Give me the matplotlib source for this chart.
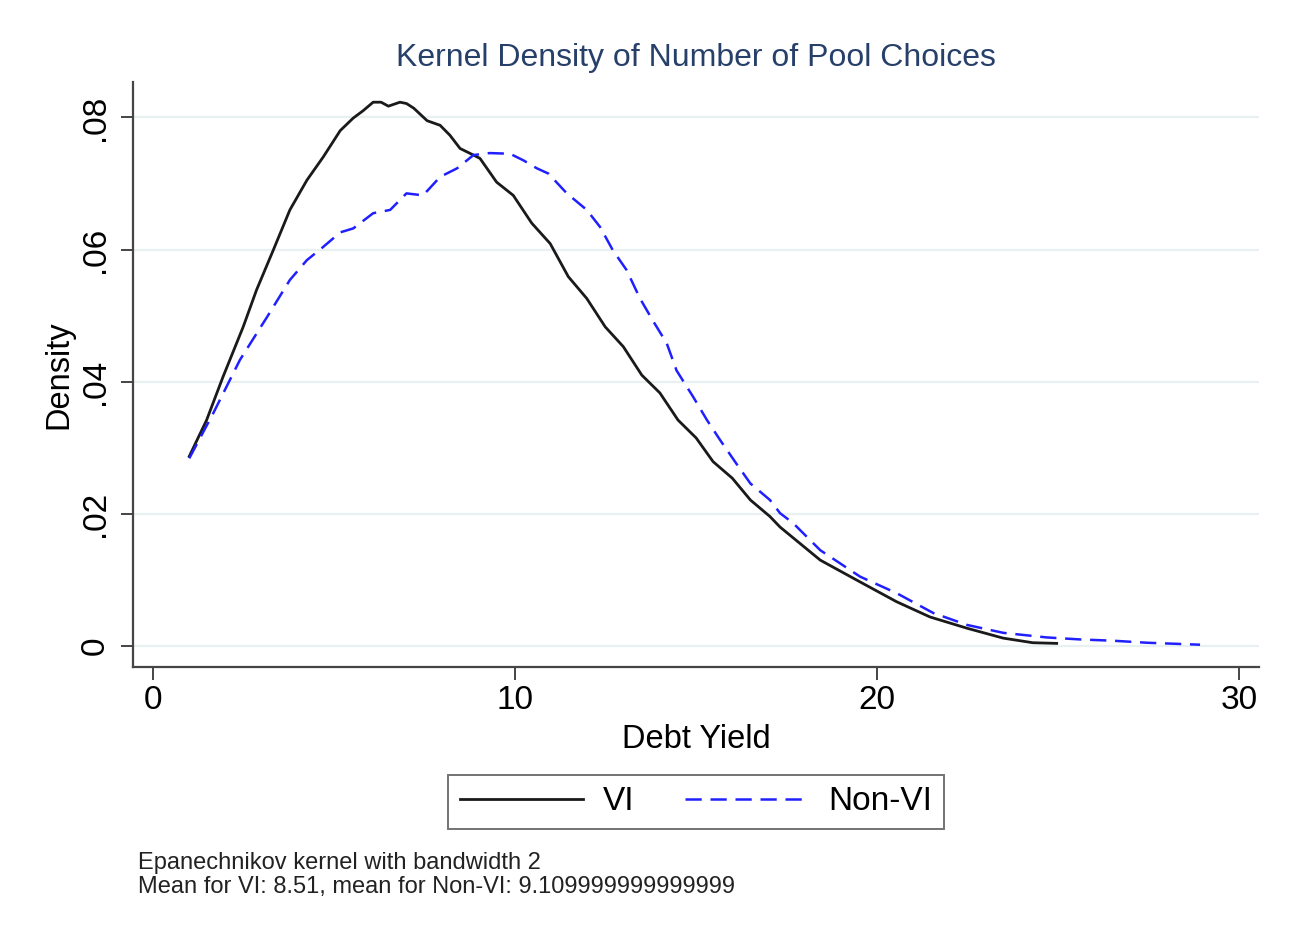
import matplotlib
matplotlib.use('Agg')
import matplotlib.pyplot as plt

plt.rcParams['font.family'] = ['Liberation Sans', 'DejaVu Sans']

# kernel density curves
vi_x = [1.0, 1.48, 1.93, 2.49, 2.86, 3.32, 3.78, 4.25, 4.70, 5.17, 5.53, 5.80,
        6.08, 6.30, 6.50, 6.82, 7.00, 7.20, 7.57, 7.93, 8.20, 8.48, 8.85, 9.03,
        9.49, 9.95, 10.46, 10.97, 11.47, 11.98, 12.49, 12.99, 13.50, 14.00,
        14.50, 15.00, 15.47, 16.00, 16.50, 17.04, 17.32, 18.43, 19.53, 20.54,
        21.46, 22.48, 23.48, 24.30, 24.96]
vi_y = [0.0287, 0.0342, 0.0407, 0.0483, 0.0539, 0.0599, 0.0660, 0.0705, 0.0740,
        0.0780, 0.0799, 0.0810, 0.0823, 0.0823, 0.0817, 0.0823, 0.0821, 0.0814,
        0.0795, 0.0788, 0.0773, 0.0753, 0.0743, 0.0738, 0.0702, 0.0682, 0.0640,
        0.0609, 0.0559, 0.0526, 0.0483, 0.0453, 0.0410, 0.0383, 0.0342, 0.0315,
        0.0279, 0.0254, 0.0221, 0.0196, 0.0180, 0.0130, 0.0097, 0.0067, 0.0044,
        0.0027, 0.0012, 0.0005, 0.0004]

nonvi_x = [1.0, 1.66, 2.40, 3.15, 3.78, 4.25, 4.70, 5.17, 5.53, 6.08, 6.55, 7.00,
           7.46, 7.93, 8.40, 8.85, 9.30, 9.86, 10.23, 10.60, 10.92, 11.43, 11.98,
           12.35, 12.70, 13.08, 13.45, 13.80, 14.19, 14.46, 14.92, 15.30, 15.66,
           16.10, 16.50, 17.04, 17.32, 17.68, 18.43, 19.53, 20.54, 21.55, 22.48,
           23.48, 24.69, 25.60, 26.53, 27.45, 28.92]
nonvi_y = [0.0284, 0.0352, 0.0433, 0.0498, 0.0554, 0.0584, 0.0604, 0.0626, 0.0632,
           0.0655, 0.0660, 0.0685, 0.0682, 0.0710, 0.0723, 0.0743, 0.0746, 0.0745,
           0.0735, 0.0723, 0.0715, 0.0685, 0.0660, 0.0634, 0.0599, 0.0569, 0.0526,
           0.0493, 0.0458, 0.0417, 0.0377, 0.0342, 0.0312, 0.0277, 0.0246, 0.0221,
           0.0201, 0.0186, 0.0145, 0.0105, 0.0080, 0.0050, 0.0032, 0.0020, 0.0013,
           0.0010, 0.0008, 0.0005, 0.0002]

x_ticks = [0, 10, 20, 30]
y_ticks = [0, 0.02, 0.04, 0.06, 0.08]
y_ticklabels = ['0', '.02', '.04', '.06', '.08']

fig = plt.figure(figsize=(12.94, 9.36), dpi=100)
ax = fig.add_axes([0.1026, 0.2877, 0.8704, 0.625])

ax.plot(vi_x, vi_y, color='#1a1a1a', lw=2.0, label='VI')
ax.plot(nonvi_x, nonvi_y, color='#2020ff', lw=1.8, dashes=(6.5, 3.5), label='Non-VI')

ax.set_xlim(-0.56, 30.55)
ax.set_ylim(-0.00313, 0.0854)
ax.set_xticks(x_ticks)
ax.set_yticks(y_ticks)
ax.set_yticklabels(y_ticklabels, rotation=90, va='center')
ax.grid(axis='y', color='#e8f0f1', lw=1.6)
ax.set_axisbelow(True)

for s in ['top', 'right']:
    ax.spines[s].set_visible(False)
for s in ['left', 'bottom']:
    ax.spines[s].set_color('#454545')
    ax.spines[s].set_linewidth(1.6)
ax.tick_params(colors='#454545', labelcolor='black', width=1.4, length=9,
               labelsize=24)
ax.tick_params(axis='x', pad=4)
ax.tick_params(axis='y', pad=7)

ax.set_xlabel('Debt Yield', fontsize=23.5, labelpad=6)
ax.set_ylabel('Density', fontsize=23.5, labelpad=4)
ax.set_title('Kernel Density of Number of Pool Choices', fontsize=23,
             color='#27406a', pad=11)

fig.legend(loc='center', bbox_to_anchor=(696 / 1294, 1 - 802 / 936), ncol=2,
           fontsize=24, frameon=True, fancybox=False, edgecolor='#505050',
           handlelength=3.7, handletextpad=0.6, columnspacing=1.5,
           borderpad=0.35).get_frame().set_linewidth(1.4)

fig.text(138 / 1294, 1 - 852 / 936,
         'Epanechnikov kernel with bandwidth 2\n'
         'Mean for VI: 8.51, mean for Non-VI: 9.109999999999999',
         fontsize=17, va='top', ha='left', linespacing=1.1, color='#222222')

fig.savefig('out.png', dpi=100, facecolor='white')
